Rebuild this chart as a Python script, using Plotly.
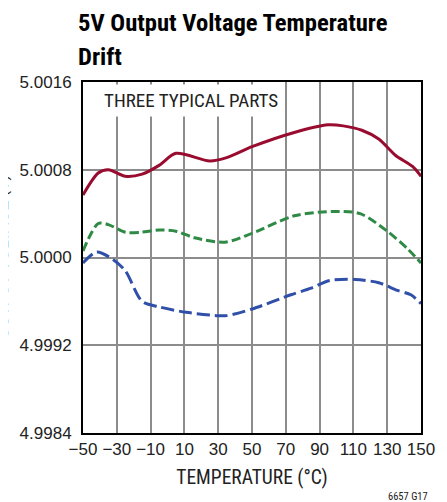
import plotly.graph_objects as go

# temperatures (°C) and output voltages (V) for the three parts
temp_a = [-50, -41, -35, -25, -15, -5, 5, 25, 35, 50, 75, 95, 104, 115, 125, 135, 145, 150]
volt_a = [5.00057, 5.00077, 5.00080, 5.00074, 5.00076, 5.00084, 5.00095, 5.00088, 5.00091,
          5.00101, 5.00114, 5.00121, 5.00120, 5.00116, 5.00108, 5.00093, 5.00083, 5.00074]

temp_b = [-50, -41, -35, -25, -16, -5, 5, 16, 34, 50, 75, 98, 114, 130, 142, 150]
volt_b = [5.00006, 5.00031, 5.00030, 5.00023, 5.00023, 5.00025, 5.00024, 5.00018, 5.00014,
          5.00022, 5.00038, 5.00042, 5.00040, 5.00024, 5.00008, 4.99995]

temp_c = [-50, -42, -33, -25, -15, -5, 11, 30, 35, 50, 73, 85, 96, 111, 125, 136, 144, 150]
volt_c = [4.99995, 5.00005, 4.99999, 4.99988, 4.99960, 4.99955, 4.99950, 4.99947, 4.99947,
          4.99953, 4.99966, 4.99972, 4.99979, 4.99980, 4.99977, 4.99970, 4.99966, 4.99958]

x_ticks = [-50, -30, -10, 10, 30, 50, 70, 90, 110, 130, 150]
x_tick_text = ["\u221250", "\u221230", "\u221210", "10", "30", "50", "70", "90", "110", "130", "150"]
y_ticks = [4.9984, 4.9992, 5.0000, 5.0008, 5.0016]
y_tick_text = ["4.9984", "4.9992", "5.0000", "5.0008", "5.0016"]

FONT = "Liberation Sans, Arial, sans-serif"
COND = "Roboto Condensed, Liberation Sans, Arial, sans-serif"
TEXT = "#222222"
GRID = "#8c8c8c"

# page body has an 8px margin, so the figure is 8px smaller than the window
W, H = 439, 494

fig = go.Figure()
fig.add_trace(go.Scatter(x=temp_a, y=volt_a, mode="lines", line_shape="spline",
                         line=dict(color="#990c2f", width=3, smoothing=0.8)))
fig.add_trace(go.Scatter(x=temp_b, y=volt_b, mode="lines", line_shape="spline",
                         line=dict(color="#2e8a45", width=3, dash="9px,4px", smoothing=0.8)))
fig.add_trace(go.Scatter(x=temp_c, y=volt_c, mode="lines", line_shape="spline",
                         line=dict(color="#2f4fa8", width=3, dash="13px,5px", smoothing=0.8)))

fig.update_xaxes(
    range=[-50, 150], tickvals=x_ticks, ticktext=x_tick_text, tickangle=0,
    showgrid=True, gridcolor=GRID, gridwidth=1.5,
    showline=True, linecolor="black", linewidth=2, mirror=True,
    zeroline=False, ticks="", tickfont=dict(size=17, color=TEXT, family=FONT),
    title=dict(text="TEMPERATURE (°C)", font=dict(size=19.5, color=TEXT, family=COND),
               standoff=12),
)
fig.update_yaxes(
    range=[4.9984, 5.0016], tickvals=y_ticks, ticktext=y_tick_text,
    showgrid=True, gridcolor=GRID, gridwidth=1.5,
    showline=True, linecolor="black", linewidth=2, mirror=True,
    zeroline=False, ticks="", tickfont=dict(size=17, color=TEXT, family=FONT),
    ticklabelstandoff=6,
)

fig.add_annotation(text="THREE TYPICAL PARTS", xref="paper", yref="paper",
                   x=0.046, y=0.994, xanchor="left", yanchor="top", showarrow=False,
                   font=dict(size=19, color=TEXT, family=COND),
                   bgcolor="white", borderpad=4)
fig.add_annotation(text="OUTPUT VOLTAGE (V)", xref="paper", yref="paper",
                   x=-0.205, y=0.502, xanchor="right", yanchor="middle", textangle=-90,
                   showarrow=False, font=dict(size=15.5, color=TEXT, family=FONT))
fig.add_annotation(text="6657 G17", xref="paper", yref="paper",
                   x=1.028, y=-0.204, xanchor="right", yanchor="bottom", showarrow=False,
                   font=dict(size=10.5, color=TEXT, family=COND))

# two-line title
fig.add_annotation(text="<b>5V Output Voltage Temperature</b>", xref="paper", yref="paper",
                   x=-0.022, y=1.1695, xanchor="left", yanchor="middle", showarrow=False,
                   font=dict(size=24.6, color="black", family=COND))
fig.add_annotation(text="<b>Drift</b>", xref="paper", yref="paper",
                   x=-0.022, y=1.072, xanchor="left", yanchor="middle", showarrow=False,
                   font=dict(size=24.6, color="black", family=COND))

fig.update_layout(
    width=W, height=H,
    margin=dict(l=69, r=19, t=74, b=69),
    paper_bgcolor="white", plot_bgcolor="white",
    showlegend=False,
    font=dict(family=FONT),
)

fig.write_html("out.html")
